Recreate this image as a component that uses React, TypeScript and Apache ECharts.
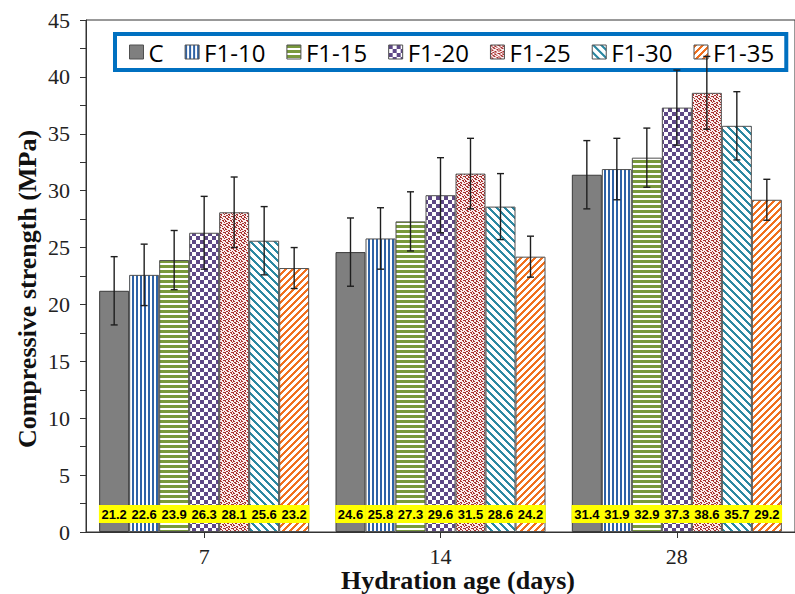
import React, { useEffect, useRef } from 'react';
import * as echarts from 'echarts';

const categories = ['7', '14', '28'];
const seriesNames = ['C', 'F1-10', 'F1-15', 'F1-20', 'F1-25', 'F1-30', 'F1-35'];

const valC = [21.2, 24.6, 31.4];
const valF110 = [22.6, 25.8, 31.9];
const valF115 = [23.9, 27.3, 32.9];
const valF120 = [26.3, 29.6, 37.3];
const valF125 = [28.1, 31.5, 38.6];
const valF130 = [25.6, 28.6, 35.7];
const valF135 = [23.2, 24.2, 29.2];

const errC = [3.0, 3.0, 3.0];
const errF110 = [2.7, 2.7, 2.7];
const errF115 = [2.6, 2.6, 2.6];
const errF120 = [3.2, 3.3, 3.3];
const errF125 = [3.1, 3.1, 3.2];
const errF130 = [3.0, 2.9, 3.0];
const errF135 = [1.8, 1.8, 1.8];

const yMin = 0;
const yMax = 45;
const yInterval = 5;

const values = [valC, valF110, valF115, valF120, valF125, valF130, valF135];
const errors = [errC, errF110, errF115, errF120, errF125, errF130, errF135];

const BAR_W = 30;

function tile(w: number, h: number, fg: string, bg: string, test: (x: number, y: number) => boolean) {
  const c = document.createElement('canvas');
  c.width = w;
  c.height = h;
  const ctx = c.getContext('2d')!;
  ctx.fillStyle = bg;
  ctx.fillRect(0, 0, w, h);
  ctx.fillStyle = fg;
  for (let y = 0; y < h; y++) {
    for (let x = 0; x < w; x++) {
      if (test(x, y)) ctx.fillRect(x, y, 1, 1);
    }
  }
  return { image: c.toDataURL(), repeat: 'repeat', imageWidth: w, imageHeight: h } as any;
}

const confetti = [
  '11001001',
  '01001100',
  '00110010',
  '10011000',
  '01000011',
  '01100001',
  '10001100',
  '00110100',
];

function makeFills() {
  return [
    '#7F7F7F',
    tile(4, 4, '#2E62A6', '#FFFFFF', (x) => x % 4 < 2),
    tile(5, 5, '#79993C', '#FFFFFF', (_x, y) => y % 5 < 3),
    tile(8, 8, '#5E4886', '#FFFFFF', (x, y) => ((x >> 2) + (y >> 2)) % 2 === 0),
    tile(8, 8, '#A8302F', '#FAEDED', (x, y) => confetti[y][x] === '1'),
    tile(8, 8, '#2C88A2', '#FFFFFF', (x, y) => ((x - y + 64) % 8) < 3),
    tile(7, 7, '#F0701E', '#FFFFFF', (x, y) => ((x + y) % 7) < 3),
  ];
}

export default function App() {
  const ref = useRef<HTMLDivElement>(null);
  useEffect(() => {
    if (!ref.current) return;
    const chart = echarts.init(ref.current, null, { renderer: 'svg' });
    const fills = makeFills();
    const n = seriesNames.length;

    const barSeries = seriesNames.map((name, k) => ({
      type: 'bar',
      name,
      data: values[k],
      barWidth: BAR_W,
      barGap: '0%',
      itemStyle: {
        color: fills[k],
        borderColor: k === 0 ? '#3A3A3A' : '#505050',
        borderWidth: 1,
      },
      label: {
        show: true,
        position: 'insideBottom',
        distance: 9,
        formatter: (p: any) => Number(p.value).toFixed(1),
        backgroundColor: '#FFFF00',
        width: 30.5,
        height: 18,
        lineHeight: 18,
        align: 'center',
        fontFamily: 'Liberation Sans',
        fontWeight: 'bold',
        fontSize: 13,
        color: '#000',
      },
      z: 2,
    }));

    const errData: number[][] = [];
    for (let k = 0; k < n; k++) {
      for (let c = 0; c < categories.length; c++) {
        errData.push([c, k, values[k][c] - errors[k][c], values[k][c] + errors[k][c]]);
      }
    }

    const errSeries = {
      type: 'custom',
      name: 'error',
      z: 10,
      encode: { x: 0, y: [2, 3] },
      data: errData,
      renderItem: (_params: any, api: any) => {
        const ci = api.value(0);
        const k = api.value(1);
        const lo = api.value(2);
        const hi = api.value(3);
        const a = api.coord([ci, hi]);
        const b = api.coord([ci, lo]);
        const x = a[0] + (k - (n - 1) / 2) * BAR_W;
        const cap = 3.5;
        const style = { stroke: '#1E1E1E', lineWidth: 1.4 };
        return {
          type: 'group',
          children: [
            { type: 'line', shape: { x1: x, y1: a[1], x2: x, y2: b[1] }, style },
            { type: 'line', shape: { x1: x - cap, y1: a[1], x2: x + cap, y2: a[1] }, style },
            { type: 'line', shape: { x1: x - cap, y1: b[1], x2: x + cap, y2: b[1] }, style },
          ],
        };
      },
    };

    chart.setOption({
      animation: false,
      backgroundColor: '#FFFFFF',
      grid: {
        left: 86,
        top: 20,
        width: 723,
        height: 512,
        show: true,
        borderColor: '#333',
        borderWidth: 1,
        backgroundColor: 'transparent',
      },
      legend: {
        data: seriesNames,
        left: 115,
        top: 34,
        icon: 'rect',
        itemWidth: 14,
        itemHeight: 14,
        itemGap: 21,
        padding: [6, 12, 6, 14],
        borderColor: '#0070C0',
        borderWidth: 4,
        backgroundColor: '#FFFFFF',
        z: 5,
        itemStyle: { borderColor: '#505050', borderWidth: 1 },
        textStyle: { fontFamily: 'Open Sans', fontSize: 24, color: '#000' },
      },
      xAxis: {
        type: 'category',
        data: categories,
        axisLine: { lineStyle: { color: '#333', width: 1 } },
        axisTick: { show: true, alignWithLabel: true, length: 6, lineStyle: { color: '#333' } },
        axisLabel: { margin: 15, lineHeight: 18, fontFamily: 'Liberation Serif', fontSize: 22, color: '#222' },
        splitLine: { show: false },
      },
      yAxis: {
        type: 'value',
        min: yMin,
        max: yMax,
        interval: yInterval,
        axisLine: { show: true, lineStyle: { color: '#333', width: 1 } },
        axisTick: { show: true, length: 6, lineStyle: { color: '#333' } },
        minorTick: { show: true, splitNumber: 2, length: 6, lineStyle: { color: '#333' } },
        axisLabel: { margin: 16, fontFamily: 'Liberation Serif', fontSize: 22, color: '#222' },
        splitLine: { show: false },
      },
      graphic: [
        {
          type: 'text',
          x: 27,
          y: 289,
          rotation: Math.PI / 2,
          style: {
            text: 'Compressive strength (MPa)',
            fontFamily: 'Liberation Serif',
            fontWeight: 'bold',
            fontSize: 26,
            fill: '#111',
            align: 'center',
            verticalAlign: 'middle',
          },
        },
        {
          type: 'text',
          x: 458,
          y: 580,
          style: {
            text: 'Hydration age (days)',
            fontFamily: 'Liberation Serif',
            fontWeight: 'bold',
            fontSize: 26,
            lineHeight: 20,
            fill: '#111',
            align: 'center',
            verticalAlign: 'middle',
          },
        },
      ],
      series: [...barSeries, errSeries],
    } as any);
    return () => chart.dispose();
  }, []);
  return <div ref={ref} style={{ position: 'fixed', left: 0, top: 0, width: 795, height: 594 }} />;
}
